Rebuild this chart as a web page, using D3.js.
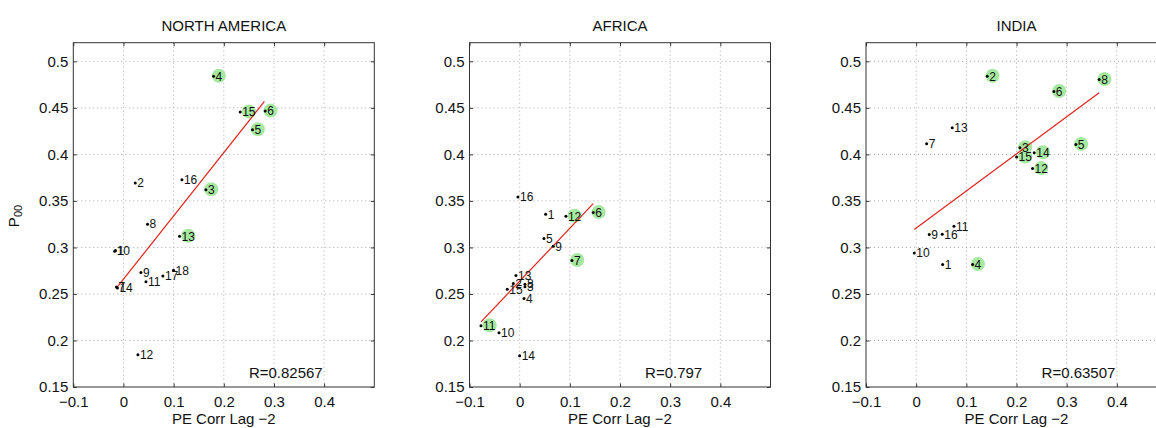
<!DOCTYPE html>
<html>
<head>
<meta charset="utf-8">
<script src="https://cdn.jsdelivr.net/npm/d3@7"></script>
<style>
  html, body { margin: 0; padding: 0; background: #fff; }
  svg { display: block; font-family: "Liberation Sans", Arial, Helvetica, sans-serif; }
</style>
</head>
<body>
<svg id="chart" width="1156" height="428"></svg>
<script>
// ---- data ---------------------------------------------------------------
const regionNames = ["NORTH AMERICA", "AFRICA", "INDIA"];

const naIds = [1, 2, 3, 4, 5, 6, 7, 8, 9, 10, 11, 12, 13, 14, 15, 16, 17, 18];
const naX = [-0.016, 0.0235, 0.1643, 0.1795, 0.2572, 0.2825, -0.014, 0.048, 0.0348, -0.0175, 0.0448, 0.0288, 0.1118, -0.012, 0.2327, 0.1165, 0.0786, 0.0998];
const naY = [0.2968, 0.3692, 0.362, 0.484, 0.4265, 0.4465, 0.2575, 0.325, 0.273, 0.296, 0.263, 0.1847, 0.312, 0.2565, 0.4454, 0.3728, 0.2694, 0.2755];
const naHighlight = [3, 4, 5, 6, 13, 15];
const naFitX = [-0.013, 0.281];
const naFitY = [0.257, 0.457];
const naR = "R=0.82567";

const afIds = [1, 2, 3, 4, 5, 6, 7, 8, 9, 10, 11, 12, 13, 14, 15, 16];
const afX = [0.0518, -0.0127, 0.0106, 0.0086, 0.0484, 0.1467, 0.1042, 0.0106, 0.0669, -0.0412, -0.0771, 0.0922, -0.0074, 0.0, -0.0247, -0.0034];
const afY = [0.3356, 0.2612, 0.2576, 0.2452, 0.3095, 0.3374, 0.286, 0.2605, 0.3013, 0.2083, 0.2158, 0.3335, 0.2698, 0.1836, 0.2551, 0.3542];
const afHighlight = [6, 7, 11, 12];
const afFitX = [-0.077, 0.1466];
const afFitY = [0.220, 0.347];
const afR = "R=0.797";

const inIds = [1, 2, 3, 4, 5, 6, 7, 8, 9, 10, 11, 12, 13, 14, 15, 16];
const inX = [0.0528, 0.1416, 0.2068, 0.1125, 0.3183, 0.2745, 0.0209, 0.3648, 0.0261, -0.0038, 0.0753, 0.232, 0.0719, 0.2353, 0.2002, 0.052];
const inY = [0.2817, 0.484, 0.4072, 0.2817, 0.4107, 0.4676, 0.4115, 0.4805, 0.3138, 0.2941, 0.3227, 0.3847, 0.4286, 0.4018, 0.3971, 0.3142];
const inHighlight = [2, 3, 4, 5, 6, 8, 12, 14, 15];
const inFitX = [-0.0038, 0.3648];
const inFitY = [0.3192, 0.4662];
const inR = "R=0.63507";

const xTicks = [-0.1, 0, 0.1, 0.2, 0.3, 0.4];
const xTickLabels = ["\u22120.1", "0", "0.1", "0.2", "0.3", "0.4"];
const yTicks = [0.15, 0.2, 0.25, 0.3, 0.35, 0.4, 0.45, 0.5];
const yTickLabels = ["0.15", "0.2", "0.25", "0.3", "0.35", "0.4", "0.45", "0.5"];
const xDomain = [-0.1, 0.5];
const yDomain = [0.15, 0.52];
const rTextPos = [0.25, 0.165];
const xAxisTitle = "PE Corr Lag \u22122";

// ---- layout -------------------------------------------------------------
const panelLeft = [73.3, 469.5, 866];
const panelTop = 42.7;
const panelW = 301;
const panelH = 344.3;

const panels = [
  { name: regionNames[0], ids: naIds, xs: naX, ys: naY, hi: naHighlight, fx: naFitX, fy: naFitY, r: naR },
  { name: regionNames[1], ids: afIds, xs: afX, ys: afY, hi: afHighlight, fx: afFitX, fy: afFitY, r: afR },
  { name: regionNames[2], ids: inIds, xs: inX, ys: inY, hi: inHighlight, fx: inFitX, fy: inFitY, r: inR }
];

const svg = d3.select("#chart");
const tickFont = 15;
const labelFont = 12;

panels.forEach((p, i) => {
  const x = d3.scaleLinear().domain(xDomain).range([0, panelW]);
  const y = d3.scaleLinear().domain(yDomain).range([panelH, 0]);
  const g = svg.append("g").attr("transform", `translate(${panelLeft[i]},${panelTop})`);

  // dotted grid
  g.append("g").selectAll("line").data(xTicks.filter(t => t > xDomain[0])).join("line")
    .attr("x1", d => x(d)).attr("x2", d => x(d)).attr("y1", 0).attr("y2", panelH)
    .attr("stroke", "#a8a8a8").attr("stroke-width", 1).attr("stroke-dasharray", "1,3");
  g.append("g").selectAll("line").data(yTicks.filter(t => t > yDomain[0])).join("line")
    .attr("y1", d => y(d)).attr("y2", d => y(d)).attr("x1", 0).attr("x2", panelW)
    .attr("stroke", "#a8a8a8").attr("stroke-width", 1).attr("stroke-dasharray", "1,3");

  // axes with inward ticks
  const fmtX = d => xTickLabels[xTicks.indexOf(d)];
  const fmtY = d => yTickLabels[yTicks.indexOf(d)];
  const axB = g.append("g").attr("transform", `translate(0,${panelH})`)
    .call(d3.axisBottom(x).tickValues(xTicks).tickFormat(fmtX).tickSizeInner(-3.5).tickSizeOuter(0).tickPadding(9));
  const axL = g.append("g")
    .call(d3.axisLeft(y).tickValues(yTicks).tickFormat(fmtY).tickSizeInner(-3.5).tickSizeOuter(0).tickPadding(5));
  const axT = g.append("g")
    .call(d3.axisTop(x).tickValues(xTicks).tickFormat("").tickSizeInner(-3.5).tickSizeOuter(0));
  const axR = g.append("g").attr("transform", `translate(${panelW},0)`)
    .call(d3.axisRight(y).tickValues(yTicks).tickFormat("").tickSizeInner(-3.5).tickSizeOuter(0));
  [axB, axL, axT, axR].forEach(a => {
    a.select(".domain").remove();
    a.selectAll(".tick line").attr("stroke", "#333");
    a.selectAll(".tick text").attr("fill", "#111").style("font-size", tickFont + "px").style("font-family", "inherit");
  });

  // frame
  g.append("rect").attr("x", 0).attr("y", 0).attr("width", panelW).attr("height", panelH)
    .attr("fill", "none").attr("stroke", "#333").attr("stroke-width", 1);

  // title
  svg.append("text").attr("x", panelLeft[i] + panelW / 2).attr("y", 30.5)
    .attr("text-anchor", "middle").style("font-size", "15px").attr("fill", "#111").text(p.name);

  // x axis title
  svg.append("text").attr("x", panelLeft[i] + panelW / 2).attr("y", 424)
    .attr("text-anchor", "middle").style("font-size", "15px").attr("fill", "#111").text(xAxisTitle);

  const pts = p.ids.map((id, k) => ({ id, x: p.xs[k], y: p.ys[k], hi: p.hi.includes(id) }));
  const labelGap = 2;
  const digitW = 6.7;

  // highlight discs behind the numbered labels
  g.append("g").selectAll("circle").data(pts.filter(d => d.hi)).join("circle")
    .attr("cx", d => x(d.x) + labelGap + String(d.id).length * digitW / 2)
    .attr("cy", d => y(d.y) - 0.5)
    .attr("r", 7)
    .attr("fill", "#a6e8a0");

  // least-squares fit line
  g.append("line")
    .attr("x1", x(p.fx[0])).attr("y1", y(p.fy[0]))
    .attr("x2", x(p.fx[1])).attr("y2", y(p.fy[1]))
    .attr("stroke", "#e0231c").attr("stroke-width", 1.2);

  // points
  g.append("g").selectAll("circle").data(pts).join("circle")
    .attr("cx", d => x(d.x)).attr("cy", d => y(d.y)).attr("r", 1.5).attr("fill", "#000");

  // point numbers
  g.append("g").selectAll("text").data(pts).join("text")
    .attr("x", d => x(d.x) + labelGap).attr("y", d => y(d.y))
    .attr("dy", "0.36em")
    .style("font-size", labelFont + "px").attr("fill", "#111")
    .text(d => d.id);

  // correlation annotation
  g.append("text").attr("x", x(rTextPos[0])).attr("y", y(rTextPos[1])).attr("dy", "0.36em")
    .style("font-size", "15px").attr("fill", "#111").text(p.r);
});

// y axis title with subscript
const yt = svg.append("text")
  .attr("transform", "translate(19,216) rotate(-90)")
  .attr("text-anchor", "middle").style("font-size", "15px").attr("fill", "#111");
yt.append("tspan").text("P");
yt.append("tspan").attr("dy", "0.3em").style("font-size", "11px").text("00");
</script>
</body>
</html>
